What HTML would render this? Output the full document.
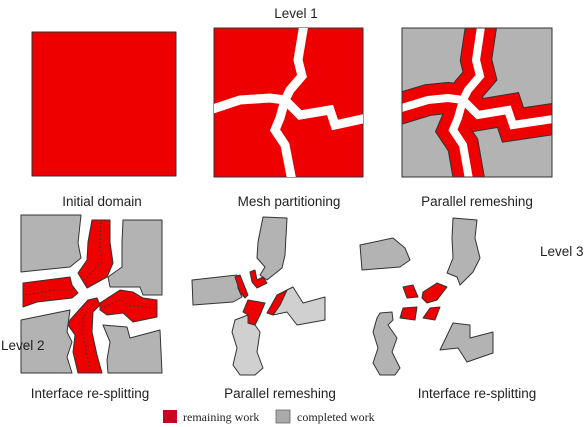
<!DOCTYPE html><html><head><style>body{margin:0;background:#fff}svg{display:block}text{font-family:"Liberation Sans",sans-serif;font-size:12px;fill:#222}.lb{font-size:13.5px}</style></head><body>
<svg width="584" height="427" viewBox="0 0 584 427">
<defs><clipPath id="c3"><rect x="402" y="28" width="150" height="149"/></clipPath><clipPath id="c2"><rect x="214" y="28" width="149" height="149"/></clipPath></defs>
<g stroke="#333" stroke-width="1" stroke-linejoin="round">
<rect x="32" y="32" width="144" height="144" fill="#ee0000"/>
<g>
<rect x="214" y="28" width="149" height="149" fill="#ee0000"/>
<g fill="none" stroke="#fff" stroke-width="9" stroke-linejoin="miter" clip-path="url(#c2)">
<polyline points="304,24 298,60 302,76 290,90 285,100"/><polyline points="210,110 240,100 270,98 285,100"/><polyline points="285,100 300,115 330,110 335,125 367,118"/><polyline points="285,100 280,118 275,130 285,145 292,181"/></g></g>
<g>
<rect x="402" y="28" width="150" height="149" fill="#b3b3b3"/>
<g fill="none" stroke-linejoin="miter" clip-path="url(#c3)"><g stroke="#333" stroke-width="32">
<polyline points="482,20 476,60 480,76 468,90 463,100"/><polyline points="395,110 428,100 448,98 463,100"/><polyline points="463,100 478,115 508,110 513,125 560,118"/><polyline points="463,100 458,118 453,130 463,145 470,185"/></g><g stroke="#ee0000" stroke-width="30">
<polyline points="482,20 476,60 480,76 468,90 463,100"/><polyline points="395,110 428,100 448,98 463,100"/><polyline points="463,100 478,115 508,110 513,125 560,118"/><polyline points="463,100 458,118 453,130 463,145 470,185"/></g>
<g stroke="#fff" stroke-width="8"><polyline points="482,20 476,60 480,76 468,90 463,100"/><polyline points="395,110 428,100 448,98 463,100"/><polyline points="463,100 478,115 508,110 513,125 560,118"/><polyline points="463,100 458,118 453,130 463,145 470,185"/></g></g>
<rect x="402" y="28" width="150" height="149" fill="none"/></g>
<g>
<polygon fill="#b3b3b3" points="21,215 81,215 78,243 81,258 70,267 40,270 21,272"/>
<polygon fill="#b3b3b3" points="123,220 162,220 162,295 143,295 140,287 110,287 108,277 122,267 122,242"/>
<polygon fill="#b3b3b3" points="21,320 70,310 67,332 72,342 67,357 72,373 21,373"/>
<polygon fill="#b3b3b3" points="103,325 127,327 130,338 160,330 162,373 108,373 107,360 110,342"/>
<polygon fill="#ee0000" points="92,220 110,220 110,242 113,263 107,277 87,288 78,273 87,260 88,242"/>
<polygon fill="#ee0000" points="23,283 70,277 72,285 78,293 72,298 37,302 23,307"/>
<polygon fill="#ee0000" points="100,303 120,290 133,292 143,298 157,300 157,317 133,322 123,313 107,315 100,310"/>
<polygon fill="#ee0000" points="70,320 88,300 97,298 100,305 93,312 92,332 97,355 102,373 78,373 73,352 75,335 68,325"/>
<g fill="none" stroke-dasharray="2,2" stroke-width="0.8"><polyline points="101,222 100,245 102,262 84,280"/><polyline points="25,295 55,290 74,290"/><polyline points="104,307 120,300 130,306 157,308"/><polyline points="92,304 83,318 83,335 87,355 90,372"/></g></g>
<g>
<polygon fill="#b3b3b3" points="263,217 287,218 285,255 282,268 267,280 260,275 265,267 257,258 258,242"/>
<polygon fill="#b3b3b3" points="192,280 237,275 238,288 242,297 233,302 193,305"/>
<polygon fill="#ee0000" points="235,277 240,275 248,295 245,298 240,292"/>
<polygon fill="#ee0000" points="250,272 255,270 257,280 263,277 267,283 257,288 252,282"/>
<polygon fill="#d0d0d0" points="248,315 248,323 255,325 260,332 257,352 263,368 255,375 240,375 233,365 237,348 232,332 235,320"/>
<polygon fill="#ee0000" points="248,300 265,303 260,315 255,325 248,323 248,315 243,312"/>
<polygon fill="#d0d0d0" points="287,290 293,287 303,303 325,297 325,320 297,325 287,312 273,315 280,305"/>
<polygon fill="#ee0000" points="267,313 277,295 287,290 280,305 273,315"/></g>
<g>
<polygon fill="#b3b3b3" points="360,245 393,238 405,248 410,260 400,267 362,270"/>
<polygon fill="#b3b3b3" points="453,218 477,220 475,238 480,258 473,272 460,285 457,277 447,273 453,258 452,238"/>
<polygon fill="#ee0000" points="403,287 413,285 418,297 407,298"/>
<polygon fill="#ee0000" points="423,292 437,283 447,287 437,300 427,303 422,298"/>
<polygon fill="#ee0000" points="403,308 417,307 415,320 400,318"/>
<polygon fill="#ee0000" points="430,308 440,307 435,320 423,318"/>
<polygon fill="#b3b3b3" points="380,313 392,312 393,320 388,325 397,338 392,352 400,368 395,375 380,375 373,363 378,348 373,332 377,318"/>
<polygon fill="#b3b3b3" points="453,323 470,325 470,338 493,332 493,353 467,362 458,348 440,350"/></g>
</g>
<text x="296" y="18" text-anchor="middle" class="lb">Level 1</text>
<text x="1" y="350" class="lb">Level 2</text>
<text x="540" y="256" class="lb">Level 3</text>
<text x="102" y="206" text-anchor="middle" class="lb">Initial domain</text>
<text x="289" y="206" text-anchor="middle" class="lb">Mesh partitioning</text>
<text x="477" y="206" text-anchor="middle" class="lb">Parallel remeshing</text>
<text x="90" y="398" text-anchor="middle" class="lb">Interface re-splitting</text>
<text x="280" y="398" text-anchor="middle" class="lb">Parallel remeshing</text>
<text x="477" y="398" text-anchor="middle" class="lb">Interface re-splitting</text>
<g>
<rect x="163" y="410" width="14" height="13" fill="#cc0022"/>
<text x="183" y="421" style="font-family:'Liberation Serif',serif">remaining work</text>
<rect x="276" y="410" width="14" height="13" fill="#aaa" stroke="#666" stroke-width="0.8"/>
<text x="297" y="421" style="font-family:'Liberation Serif',serif">completed work</text></g>
</svg></body></html>
